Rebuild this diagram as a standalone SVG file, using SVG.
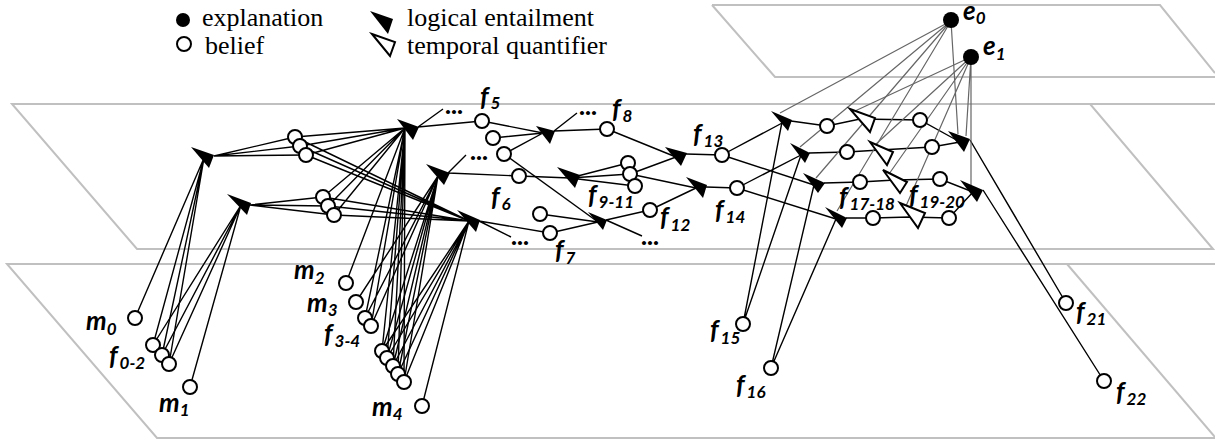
<svg xmlns="http://www.w3.org/2000/svg" width="1215" height="442" viewBox="0 0 1215 442">
<style>
.plane{fill:none;stroke:#c0c0c0;stroke-width:2}
.c{stroke:#000;stroke-width:1.4;fill:none}
.g{stroke:#666;stroke-width:1.2;fill:none}
.n{fill:#fff;stroke:#000;stroke-width:2}
.ent{fill:#000}
.tq{fill:#fff;stroke:#000;stroke-width:2;stroke-linejoin:miter}
.lbl{font-family:Lato,"Liberation Sans",sans-serif;font-weight:bold;font-style:italic;font-size:26px;fill:#000}
.sub{font-size:17px}
.dots{font-family:Lato,"Liberation Sans",sans-serif;font-weight:900;font-size:25px;fill:#000}
.leg{font-family:"Liberation Serif","Times New Roman",serif;font-size:26px;fill:#000}
</style>
<rect width="1215" height="442" fill="#fff"/>
<g id="planes">
<polyline class="plane" points="712,5 1160,5 1215,73"/>
<polyline class="plane" points="712,5 775,77 1215,77"/>
<polyline class="plane" points="1215,104 12,104 137,249 1213,249 1090,104 1215,104"/>
<polyline class="plane" points="1215,264 7,264 157,438 1215,438"/>
<polyline class="plane" points="1067,264 1215,437"/>
</g>
<g id="legend">
<circle cx="183" cy="20" r="7" fill="#000"/>
<text class="leg" x="202" y="26">explanation</text>
<polygon class="ent" points="370,11 393,19 388,34"/>
<text class="leg" x="407" y="26">logical entailment</text>
<circle class="n" cx="184" cy="44" r="7"/>
<text class="leg" x="205" y="54">belief</text>
<polygon class="tq" points="372,34 395,42 390,56"/>
<text class="leg" x="407" y="54">temporal quantifier</text>
</g>
<g id="connectors">
<path class="c" d="M204,158 L135,318 M204,158 L153,345 M204,158 L162,355 M204,158 L169,364"/>
<path class="c" d="M241,205 L153,345 M241,205 L162,355 M241,205 L169,364 M241,205 L190,387"/>
<path class="c" d="M214,156 L295,137 M214,156 L300,146 M214,156 L306,155"/>
<path class="c" d="M250,205 L323,197 M250,205 L328,206 M250,205 L334,215"/>
<path class="c" d="M295,137 L405,128 M300,146 L405,128 M306,155 L405,128 M295,137 L469,221 M300,146 L469,221 M306,155 L469,221"/>
<path class="c" d="M323,197 L405,128 M328,206 L405,128 M334,215 L405,128 M323,197 L469,221 M328,206 L469,221 M334,215 L469,221"/>
<path class="c" d="M346,283 L405,128 M356,302 L438,176 M365,318 L405,128 M371,326 L405,128 M365,318 L438,176 M371,326 L438,176"/>
<path class="c" d="M382,351 L405,128 M387,358 L405,128 M393,366 L405,128 M398,374 L405,128 M404,382 L405,128"/>
<path class="c" d="M382,351 L438,176 M387,358 L438,176 M393,366 L438,176 M398,374 L438,176 M404,382 L438,176"/>
<path class="c" d="M382,351 L469,221 M387,358 L469,221 M393,366 L469,221 M398,374 L469,221 M404,382 L469,221 M422,406 L469,221"/>
<path class="c" d="M418,127 L482,121 M418,127 L443,109"/>
<path class="c" d="M448,173 L519,176 M448,173 L466,155"/>
<path class="c" d="M479,221 L550,233 M479,221 L511,237"/>
<path class="c" d="M482,121 L543,133 M493,138 L543,133 M504,154 L543,133"/>
<path class="c" d="M554,131 L607,129 M554,131 L577,113"/>
<path class="c" d="M504,154 L598,222"/>
<path class="c" d="M519,176 L570,178 M628,163 L570,178 M630,174 L570,178 M635,186 L570,178"/>
<path class="c" d="M630,174 L676,157 M630,174 L696,188 M607,129 L676,157"/>
<path class="c" d="M540,214 L598,222 M550,233 L598,222"/>
<path class="c" d="M606,220 L650,210 M606,220 L642,236 M650,210 L696,188"/>
<path class="c" d="M686,154 L722,155 M706,187 L737,188"/>
<path class="c" d="M722,155 L784,122 M722,155 L814,185 M737,188 L801,155 M737,188 L836,219"/>
<path class="c" d="M743,324 L782,122 M743,324 L801,155 M771,368 L814,185 M771,368 L836,219"/>
<polyline class="c" points="791,121 827,126 860,119 920,120 960,142"/>
<polyline class="c" points="809,153 847,152 880,150 932,147 960,142"/>
<polyline class="c" points="824,183 860,182 895,180 940,179 973,192"/>
<polyline class="c" points="846,218 873,218 910,217 949,218 973,192"/>
<path class="c" d="M970,140 L1066,303 M983,190 L1104,381"/>
<path class="g" d="M951,21 L780,113 M951,21 L800,147 M951,21 L816,178 M951,21 L837,211 M951,21 L958,134"/>
<path class="g" d="M971,57 L855,111 M971,57 L875,145 M971,57 L889,174 M971,57 L906,206 M971,57 L966,136 M971,57 L971,185"/>
</g>
<g id="entailments">
<polygon class="ent" points="191,147 214,155 209,168"/>
<polygon class="ent" points="227,194 251,203 247,215"/>
<polygon class="ent" points="397,119 419,127 413,140"/>
<polygon class="ent" points="426,164 450,173 444,185"/>
<polygon class="ent" points="457,210 480,220 476,232"/>
<polygon class="ent" points="536,126 555,131 550,144"/>
<polygon class="ent" points="557,167 580,175 575,188"/>
<polygon class="ent" points="588,212 607,220 603,230"/>
<polygon class="ent" points="665,147 687,153 681,166"/>
<polygon class="ent" points="686,177 707,185 703,198"/>
<polygon class="ent" points="771,111 792,120 788,131"/>
<polygon class="ent" points="790,143 810,153 805,163"/>
<polygon class="ent" points="803,173 825,183 818,193"/>
<polygon class="ent" points="825,207 847,218 842,228"/>
<polygon class="ent" points="948,131 970,139 964,152"/>
<polygon class="ent" points="960,180 983,190 977,202"/>
</g>
<g id="quantifiers">
<polygon class="tq" points="850,109 875,118 870,132"/>
<polygon class="tq" points="870,142 893,152 887,165"/>
<polygon class="tq" points="883,170 907,182 900,193"/>
<polygon class="tq" points="900,203 925,213 918,228"/>
</g>
<g id="beliefs">
<circle class="n" cx="135" cy="318" r="7"/>
<circle class="n" cx="153" cy="345" r="7"/>
<circle class="n" cx="162" cy="355" r="7"/>
<circle class="n" cx="169" cy="364" r="7"/>
<circle class="n" cx="190" cy="387" r="7"/>
<circle class="n" cx="295" cy="137" r="7"/>
<circle class="n" cx="300" cy="146" r="7"/>
<circle class="n" cx="306" cy="155" r="7"/>
<circle class="n" cx="323" cy="197" r="7"/>
<circle class="n" cx="328" cy="206" r="7"/>
<circle class="n" cx="334" cy="215" r="7"/>
<circle class="n" cx="346" cy="283" r="7"/>
<circle class="n" cx="356" cy="302" r="7"/>
<circle class="n" cx="365" cy="318" r="7"/>
<circle class="n" cx="371" cy="326" r="7"/>
<circle class="n" cx="382" cy="351" r="7"/>
<circle class="n" cx="387" cy="358" r="7"/>
<circle class="n" cx="393" cy="366" r="7"/>
<circle class="n" cx="398" cy="374" r="7"/>
<circle class="n" cx="404" cy="382" r="7"/>
<circle class="n" cx="422" cy="406" r="7"/>
<circle class="n" cx="482" cy="121" r="7"/>
<circle class="n" cx="493" cy="138" r="7"/>
<circle class="n" cx="504" cy="154" r="7"/>
<circle class="n" cx="519" cy="176" r="7"/>
<circle class="n" cx="540" cy="214" r="7"/>
<circle class="n" cx="550" cy="233" r="7"/>
<circle class="n" cx="607" cy="129" r="7"/>
<circle class="n" cx="628" cy="163" r="7"/>
<circle class="n" cx="630" cy="174" r="7"/>
<circle class="n" cx="635" cy="186" r="7"/>
<circle class="n" cx="650" cy="210" r="7"/>
<circle class="n" cx="722" cy="155" r="7"/>
<circle class="n" cx="737" cy="188" r="7"/>
<circle class="n" cx="743" cy="324" r="7"/>
<circle class="n" cx="771" cy="368" r="7"/>
<circle class="n" cx="827" cy="126" r="7"/>
<circle class="n" cx="920" cy="120" r="7"/>
<circle class="n" cx="847" cy="152" r="7"/>
<circle class="n" cx="932" cy="147" r="7"/>
<circle class="n" cx="860" cy="182" r="7"/>
<circle class="n" cx="940" cy="179" r="7"/>
<circle class="n" cx="873" cy="218" r="7"/>
<circle class="n" cx="949" cy="218" r="7"/>
<circle class="n" cx="1066" cy="303" r="7"/>
<circle class="n" cx="1104" cy="381" r="7"/>
</g>
<g id="explanations">
<circle cx="951" cy="20" r="8" fill="#000"/>
<circle cx="971" cy="57" r="8" fill="#000"/>
</g>
<g id="labels">
<text class="lbl" x="86" y="330">m<tspan class="sub" dy="5">0</tspan></text>
<text class="lbl" x="109" y="365">f<tspan class="sub" dx="2" dy="4">0-2</tspan></text>
<text class="lbl" x="159" y="412">m<tspan class="sub" dy="4">1</tspan></text>
<text class="lbl" x="294" y="279">m<tspan class="sub" dy="5">2</tspan></text>
<text class="lbl" x="307" y="312">m<tspan class="sub" dy="4">3</tspan></text>
<text class="lbl" x="324" y="343">f<tspan class="sub" dx="2" dy="4">3-4</tspan></text>
<text class="lbl" x="372" y="416">m<tspan class="sub" dy="4">4</tspan></text>
<text class="lbl" x="480" y="106">f<tspan class="sub" dx="2" dy="3">5</tspan></text>
<text class="lbl" x="491" y="206">f<tspan class="sub" dx="2" dy="4">6</tspan></text>
<text class="lbl" x="555" y="259">f<tspan class="sub" dx="2" dy="5">7</tspan></text>
<text class="lbl" x="612" y="118">f<tspan class="sub" dx="2" dy="4">8</tspan></text>
<text class="lbl" x="588" y="204">f<tspan class="sub" dx="2" dy="4">9-11</tspan></text>
<text class="lbl" x="660" y="226">f<tspan class="sub" dx="2" dy="5">12</tspan></text>
<text class="lbl" x="693" y="143">f<tspan class="sub" dx="2" dy="4">13</tspan></text>
<text class="lbl" x="715" y="219">f<tspan class="sub" dx="2" dy="4">14</tspan></text>
<text class="lbl" x="710" y="339">f<tspan class="sub" dx="2" dy="5">15</tspan></text>
<text class="lbl" x="736" y="394">f<tspan class="sub" dx="2" dy="4">16</tspan></text>
<text class="lbl" x="839" y="206">f<tspan class="sub" dx="2" dy="4">17-18</tspan></text>
<text class="lbl" x="909" y="204">f<tspan class="sub" dx="2" dy="4">19-20</tspan></text>
<text class="lbl" x="1076" y="321">f<tspan class="sub" dx="2" dy="4">21</tspan></text>
<text class="lbl" x="1116" y="401">f<tspan class="sub" dx="2" dy="4">22</tspan></text>
<text class="lbl" x="963" y="20">e<tspan class="sub" dy="4">0</tspan></text>
<text class="lbl" x="983" y="55">e<tspan class="sub" dy="5">1</tspan></text>
<text class="dots" x="445" y="114">...</text>
<text class="dots" x="470" y="160">...</text>
<text class="dots" x="511" y="245">...</text>
<text class="dots" x="579" y="115">...</text>
<text class="dots" x="641" y="245">...</text>
</g>
</svg>
